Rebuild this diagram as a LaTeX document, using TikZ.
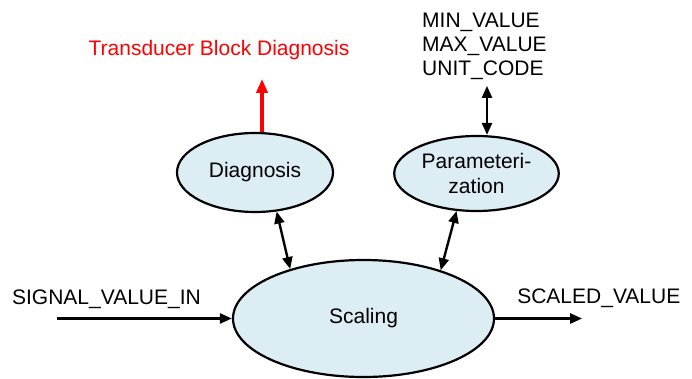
\documentclass[tikz,border=0pt]{standalone}
\usepackage{fontspec}
\setmainfont{Liberation Sans}
\usepackage{xcolor}
\usetikzlibrary{shapes.geometric, arrows.meta, positioning}
\definecolor{procfill}{RGB}{220,237,244}
\tikzstyle{process} = [ellipse, draw, line width=2.2pt, fill=procfill, align=center, font=\fontsize{21}{25}\selectfont]
\tikzstyle{signal} = [inner sep=0pt, align=left, font=\fontsize{21}{24}\selectfont]
\tikzstyle{arrow} = [-{Triangle[length=12pt, width=10pt]}, line width=2.4pt]
\tikzstyle{dblarrow} = [{Triangle[length=12pt, width=10pt]}-{Triangle[length=12pt, width=10pt]}, line width=2.4pt]
\tikzstyle{diagarrow} = [-{Triangle[length=14pt, width=11pt]}, line width=4pt, red]

\begin{document}
\begin{tikzpicture}[node distance=1cm and 1cm]
\useasboundingbox (0,0) rectangle (692pt,378pt);

% the three blocks
\node[process, minimum width=261pt, minimum height=117pt] (scaling) at (363.5pt,59.5pt) {Scaling};
\node[process, minimum width=156pt, minimum height=79pt, on grid, above left=146pt and 108.5pt of scaling] (diag) {Diagnosis};
\node[process, minimum width=153pt, minimum height=75pt, on grid, above right=145pt and 113pt of scaling] (param) {Parameteri-\\zation};

% input and output of the scaling
\coordinate[left=175pt of scaling.west] (sigin);
\coordinate[right=87pt of scaling.east] (scaledout);
\node[signal, above=14pt of sigin, anchor=base west, xshift=-45pt] (siglabel) {SIGNAL\_VALUE\_IN};
\node[signal, above right=15pt and 22pt of scaling.east, anchor=base west] (scaledlabel) {SCALED\_VALUE};

% diagnosis output and parameters
\coordinate[above=53pt of diag.north, xshift=7pt] (diagout);
\node[signal, red, above=23pt of diagout, anchor=base, xshift=-43pt] (tbdiag) {Transducer Block Diagnosis};
\coordinate[above=49pt of param.north, xshift=10.5pt] (limitsin);
\node[signal, above left=40pt and 65pt of limitsin, anchor=west] (limits) {MIN\_VALUE\\MAX\_VALUE\\UNIT\_CODE};

% arrows
\draw[arrow] (sigin) -- (scaling.west);
\draw[arrow] (scaling.east) -- (scaledout);
\draw[dblarrow] (diag.-61) -- (scaling.146);
\draw[dblarrow] (param.-118) -- (scaling.32);
\draw[diagarrow] ([xshift=7pt]diag.north) -- (diagout);
\draw[dblarrow] ([xshift=10.5pt]param.north) -- (limitsin);

\end{tikzpicture}
\end{document}
